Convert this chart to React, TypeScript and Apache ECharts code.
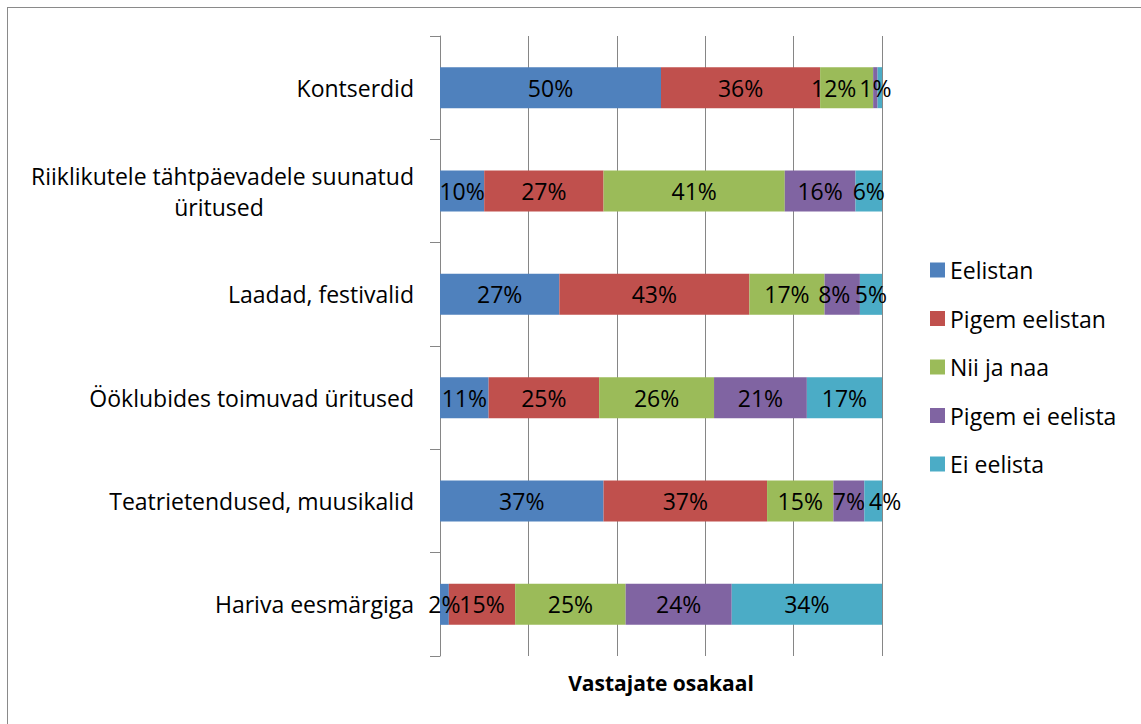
import React, { useEffect, useRef } from "react";
import * as echarts from "echarts";

const categories = [
  "Kontserdid",
  "Riiklikutele tähtpäevadele suunatud üritused",
  "Laadad, festivalid",
  "Ööklubides toimuvad üritused",
  "Teatrietendused, muusikalid",
  "Hariva eesmärgiga",
];
const seriesNames = ["Eelistan", "Pigem eelistan", "Nii ja naa", "Pigem ei eelista", "Ei eelista"];
const eelistan = [50, 10, 27, 11, 37, 2];
const pigemEelistan = [36, 27, 43, 25, 37, 15];
const niiJaNaa = [12, 41, 17, 26, 15, 25];
const pigemEiEelista = [1, 16, 8, 21, 7, 24];
const eiEelista = [1, 6, 5, 17, 4, 34];
const colors = ["#4F81BD", "#C0504D", "#9BBB59", "#8064A2", "#4BACC6"];
const axisTitle = "Vastajate osakaal";

const FONT = "'Open Sans', sans-serif";

// label nudges (series index, category index) -> horizontal offset in px, as placed in the reference
const labelNudges: Record<string, number> = {
  "2-0": -13,
  "3-2": -8,
  "4-4": 12,
};

export default function App() {
  const ref = useRef<HTMLDivElement>(null);
  useEffect(() => {
    if (!ref.current) return;
    const chart = echarts.init(ref.current, null, { renderer: "svg" });
    const values = [eelistan, pigemEelistan, niiJaNaa, pigemEiEelista, eiEelista];
    chart.setOption({
      animation: false,
      textStyle: { fontFamily: FONT },
      grid: { left: 432, top: 28, width: 442, height: 620, containLabel: false },
      legend: {
        orient: "vertical",
        left: 917,
        top: 243,
        itemWidth: 15,
        itemHeight: 15,
        itemGap: 20.5,
        icon: "rect",
        textStyle: { fontSize: 23, lineHeight: 28, color: "#000", fontFamily: FONT },
        data: seriesNames,
      },
      xAxis: {
        type: "value",
        min: 0,
        max: 100,
        interval: 20,
        axisLabel: { show: false },
        axisLine: { show: false },
        axisTick: { show: false },
        splitLine: { show: true, lineStyle: { color: "#868686", width: 1 } },
        name: axisTitle,
        nameLocation: "middle",
        nameGap: 16,
        nameTextStyle: { fontSize: 21, fontWeight: "bold", color: "#000", fontFamily: FONT },
      },
      yAxis: {
        type: "category",
        inverse: true,
        data: categories,
        axisLine: { show: true, lineStyle: { color: "#868686", width: 1 } },
        axisTick: { show: true, length: 10, lineStyle: { color: "#868686" } },
        axisLabel: {
          margin: 26,
          fontSize: 23,
          color: "#000",
          fontFamily: FONT,
          formatter: (v: string) => {
            if (v.startsWith("Riiklikutele")) {
              return "{a|Riiklikutele tähtpäevadele suunatud}\n{b|üritused}";
            }
            return v;
          },
          rich: {
            a: { fontSize: 23, color: "#000", fontFamily: FONT, lineHeight: 31 },
            b: { fontSize: 23, color: "#000", fontFamily: FONT, lineHeight: 31, width: 390, align: "center" },
          },
        },
      },
      series: seriesNames.map((name, i) => ({
        name,
        type: "bar",
        stack: "total",
        barWidth: 41,
        data: values[i].map((v, j) => {
          if (i === 4 && j === 0) return { value: v, label: { show: false } };
          const dx = labelNudges[`${i}-${j}`];
          if (dx) return { value: v, label: { offset: [dx, 0] } };
          return v;
        }),
        itemStyle: { color: colors[i] },
        label: {
          show: true,
          position: "inside",
          formatter: "{c}%",
          fontSize: 23,
          color: "#000",
          fontFamily: FONT,
        },
      })),
    });
    return () => chart.dispose();
  }, []);
  return (
    <div
      style={{
        position: "absolute",
        left: 7,
        top: 7,
        width: 1134,
        height: 717,
        borderTop: "1px solid #8a8a8a",
        borderLeft: "1px solid #8a8a8a",
        boxSizing: "border-box",
        overflow: "hidden",
      }}
    >
      <div ref={ref} style={{ width: 1133, height: 716 }} />
    </div>
  );
}
